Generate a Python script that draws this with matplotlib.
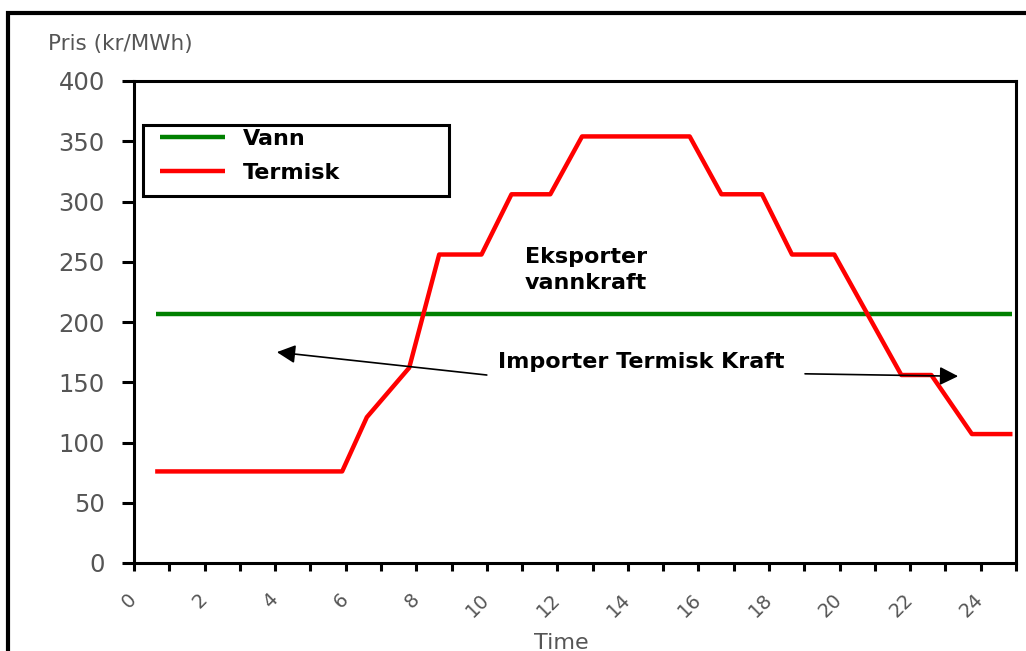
import numpy as np
import matplotlib
matplotlib.use("Agg")
from matplotlib import pyplot as plt
from matplotlib.patches import Rectangle

# data
hours_vann = [0.63, 24.9]
vann = [207, 207]

hours_termisk = [0.6, 5.9, 6.6, 7.8, 8.65, 9.85, 10.7, 11.8, 12.7, 15.75,
                 16.65, 17.8, 18.65, 19.85, 21.75, 22.6, 23.75, 24.9]
termisk = [76, 76, 121, 162, 256, 256, 306, 306, 354, 354,
           306, 306, 256, 256, 156, 156, 107, 107]

x_ticks = list(range(0, 26))
x_labels = [str(t) if t % 2 == 0 and t <= 24 else "" for t in x_ticks]
y_ticks = list(range(0, 401, 50))

W, H = 1026, 651
fig = plt.figure(figsize=(W / 100, H / 100), dpi=100)
fig.patch.set_facecolor("white")

# axes placed by pixel box
l, r, t, b = 134, 1016, 81, 563
ax = fig.add_axes([l / W, 1 - b / H, (r - l) / W, (b - t) / H])

ax.plot(hours_vann, vann, color="#008000", lw=3.2, label="Vann",
        solid_capstyle="butt")
ax.plot(hours_termisk, termisk, color="#ff0000", lw=3.2, label="Termisk",
        solid_capstyle="butt")

ax.set_xlim(0, 25)
ax.set_ylim(0, 400)

for s in ax.spines.values():
    s.set_linewidth(2.2)

ax.set_yticks(y_ticks)
ax.set_yticklabels([str(v) for v in y_ticks], color="#555555", fontsize=17.5)
ax.tick_params(axis="y", direction="out", length=9, width=2.2, pad=12)

ax.set_xticks(x_ticks)
ax.set_xticklabels(x_labels, rotation=45, ha="right", va="center",
                   rotation_mode="anchor", color="#555555", fontsize=14)
ax.tick_params(axis="x", direction="out", length=6, width=2.2, pad=18)

# legend without its own frame, box drawn to match the original size
leg = ax.legend(loc="upper left", bbox_to_anchor=(0.025, 0.91),
                frameon=False, borderaxespad=0,
                handlelength=2.9, handletextpad=0.8, borderpad=0.2,
                labelspacing=0.65, prop={"weight": "bold", "size": 16})
for txt in leg.get_texts():
    txt.set_color("black")
ax.add_patch(Rectangle(((143 - l) / (r - l), (b - 196) / (b - t)),
                       (449 - 143) / (r - l), (196 - 125) / (b - t),
                       transform=ax.transAxes, fill=False,
                       edgecolor="black", lw=2.2, zorder=5))

ax.text(11.08, 243, "Eksporter\nvannkraft", fontsize=16, fontweight="bold",
        ha="left", va="center", linespacing=1.4)
ax.text(10.32, 167, "Importer Termisk Kraft", fontsize=16, fontweight="bold",
        ha="left", va="center")

ax.annotate("", xy=(4.05, 175), xytext=(10.0, 156),
            arrowprops=dict(arrowstyle="-|>", color="black", lw=1.2,
                            mutation_scale=28, shrinkA=0, shrinkB=0))
ax.annotate("", xy=(23.36, 155), xytext=(19.02, 157),
            arrowprops=dict(arrowstyle="-|>", color="black", lw=1.2,
                            mutation_scale=28, shrinkA=0, shrinkB=0))

fig.text(48 / W, 1 - 44 / H, "Pris (kr/MWh)", color="#555555", fontsize=15.5,
         ha="left", va="center")
fig.text(561 / W, 1 - 643 / H, "Time", color="#555555", fontsize=16,
         ha="center", va="center")

# outer frame running off the right and bottom edges
fig.add_artist(Rectangle((8 / W, -0.1), 1.2, 1 - 13 / H + 0.1,
                         transform=fig.transFigure, fill=False,
                         edgecolor="black", lw=3, clip_on=False))

fig.savefig("out.png", dpi=100)
